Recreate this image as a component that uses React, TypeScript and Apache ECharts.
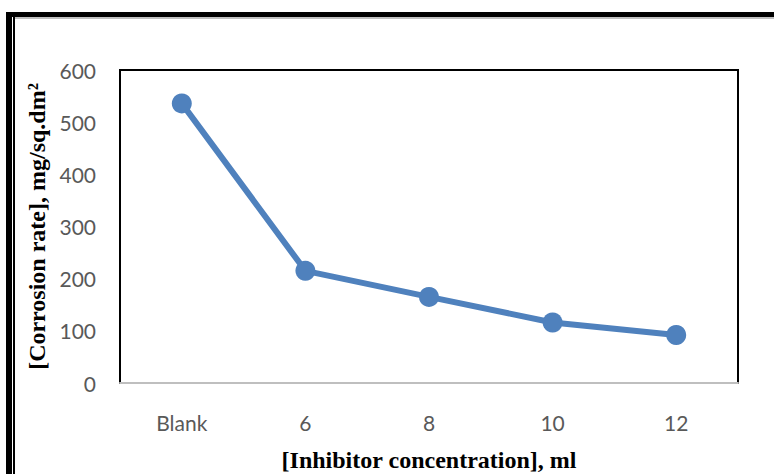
import React, { useEffect, useRef } from "react";
import * as echarts from "echarts";

const categories = ["Blank", "6", "8", "10", "12"];
const corrosionRate = [536, 215, 165, 116, 92];
const yMin = 0;
const yMax = 600;
const yStep = 100;

export default function App() {
  const ref = useRef<HTMLDivElement>(null);
  useEffect(() => {
    const chart = echarts.init(ref.current!, null, { renderer: "svg" });
    chart.setOption({
      animation: false,
      backgroundColor: "#ffffff",
      grid: {
        left: 120,
        top: 70,
        right: 36,
        bottom: 91,
        outerBoundsMode: "none",
        containLabel: false,
        show: true,
        borderColor: "#000000",
        borderWidth: 2,
        backgroundColor: "transparent",
      },
      xAxis: {
        type: "category",
        data: categories,
        boundaryGap: true,
        axisLine: { show: true, lineStyle: { color: "#bfbfbf", width: 2 } },
        axisTick: { show: false },
        axisLabel: {
          color: "#595959",
          fontFamily: "Lato",
          fontSize: 21,
          margin: 29,
        },
        name: "[Inhibitor concentration], ml",
        nameLocation: "middle",
        nameGap: 65,
        nameTextStyle: {
          fontFamily: "Liberation Serif",
          fontWeight: "bold",
          fontSize: 24,
          color: "#000000",
        },
      },
      yAxis: {
        type: "value",
        min: yMin,
        max: yMax,
        interval: yStep,
        splitLine: { show: false },
        axisLine: { show: false },
        axisTick: { show: false },
        axisLabel: {
          color: "#595959",
          fontFamily: "Lato",
          fontSize: 21,
          margin: 24,
        },
        name: "[Corrosion rate], mg/sq.dm²",
        nameLocation: "middle",
        nameGap: 64,
        nameTextStyle: {
          fontFamily: "Liberation Serif",
          fontWeight: "bold",
          fontSize: 24,
          color: "#000000",
        },
      },
      series: [
        {
          type: "line",
          data: corrosionRate,
          symbol: "circle",
          symbolSize: 20,
          lineStyle: { color: "#4f81bd", width: 6 },
          itemStyle: { color: "#4f81bd" },
        },
      ],
      graphic: [
        { type: "rect", shape: { x: 6, y: 12, width: 768, height: 5 }, style: { fill: "#000000" } },
        { type: "rect", shape: { x: 6, y: 12, width: 6, height: 462 }, style: { fill: "#000000" } },
        { type: "line", shape: { x1: 13, y1: 18, x2: 774, y2: 18 }, style: { stroke: "#808080", lineWidth: 1 } },
        { type: "line", shape: { x1: 14, y1: 17, x2: 14, y2: 474 }, style: { stroke: "#000000", lineWidth: 2 } },
      ],
    });
    return () => chart.dispose();
  }, []);
  return (
    <div
      ref={ref}
      style={{ position: "fixed", left: 0, top: 0, width: 774, height: 474, background: "#fff" }}
    />
  );
}
